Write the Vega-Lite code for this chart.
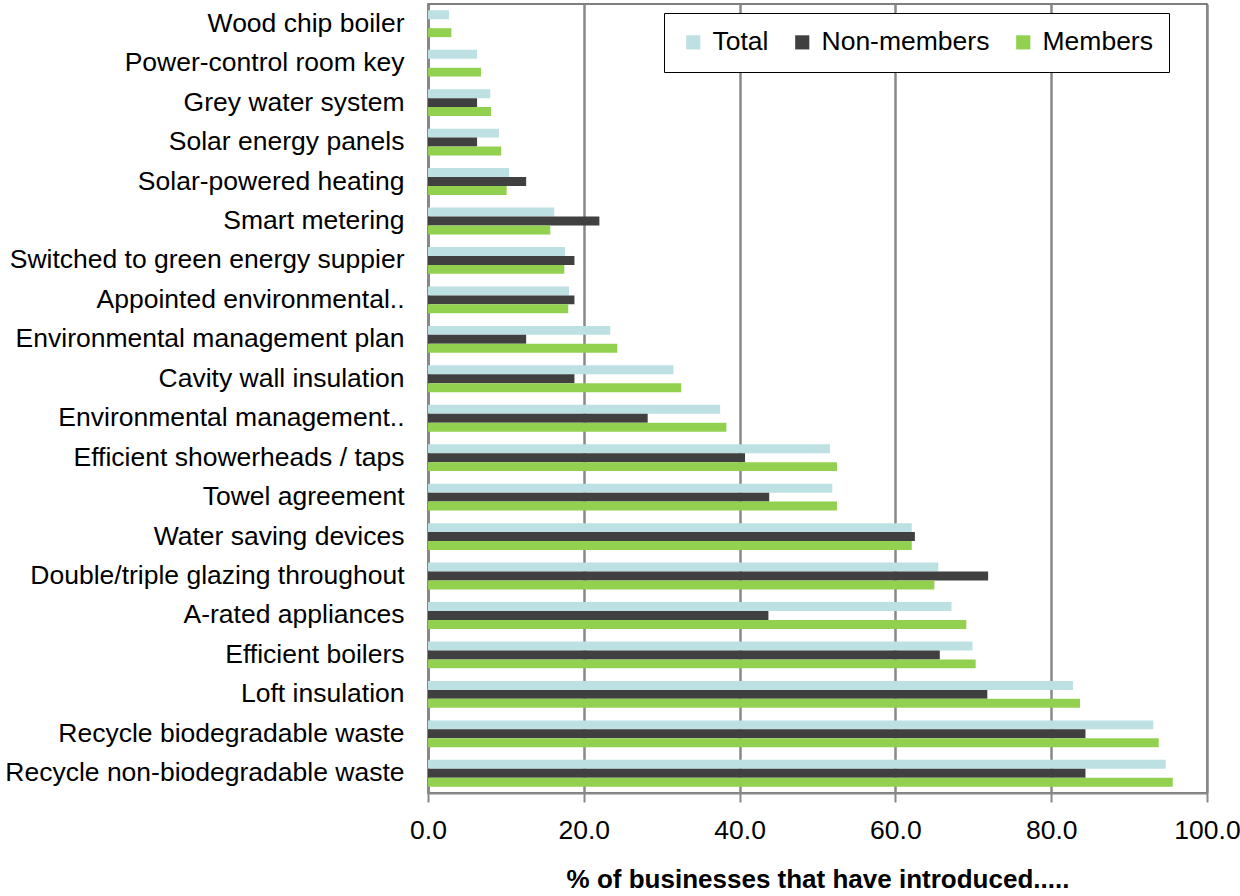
{
  "$schema": "https://vega.github.io/schema/vega-lite/v6.json",
  "width": 779,
  "height": 789,
  "autosize": "none",
  "padding": {"left": 428, "top": 4, "right": 33, "bottom": 103},
  "background": "white",
  "config": {
    "font": "Liberation Sans",
    "view": {"stroke": "#555555", "strokeWidth": 1.5}
  },
  "data": {
    "values": [
      {"item": "Wood chip boiler", "series": "Total", "value": 2.7},
      {"item": "Wood chip boiler", "series": "Non-members", "value": 0},
      {"item": "Wood chip boiler", "series": "Members", "value": 3.0},
      {"item": "Power-control room key", "series": "Total", "value": 6.3},
      {"item": "Power-control room key", "series": "Non-members", "value": 0},
      {"item": "Power-control room key", "series": "Members", "value": 6.8},
      {"item": "Grey water system", "series": "Total", "value": 8.0},
      {"item": "Grey water system", "series": "Non-members", "value": 6.3},
      {"item": "Grey water system", "series": "Members", "value": 8.1},
      {"item": "Solar energy panels", "series": "Total", "value": 9.1},
      {"item": "Solar energy panels", "series": "Non-members", "value": 6.3},
      {"item": "Solar energy panels", "series": "Members", "value": 9.4},
      {"item": "Solar-powered heating", "series": "Total", "value": 10.4},
      {"item": "Solar-powered heating", "series": "Non-members", "value": 12.6},
      {"item": "Solar-powered heating", "series": "Members", "value": 10.1},
      {"item": "Smart metering", "series": "Total", "value": 16.2},
      {"item": "Smart metering", "series": "Non-members", "value": 22.0},
      {"item": "Smart metering", "series": "Members", "value": 15.7},
      {"item": "Switched to green energy suppier", "series": "Total", "value": 17.6},
      {"item": "Switched to green energy suppier", "series": "Non-members", "value": 18.8},
      {"item": "Switched to green energy suppier", "series": "Members", "value": 17.5},
      {"item": "Appointed environmental..", "series": "Total", "value": 18.1},
      {"item": "Appointed environmental..", "series": "Non-members", "value": 18.8},
      {"item": "Appointed environmental..", "series": "Members", "value": 18.0},
      {"item": "Environmental management plan", "series": "Total", "value": 23.4},
      {"item": "Environmental management plan", "series": "Non-members", "value": 12.6},
      {"item": "Environmental management plan", "series": "Members", "value": 24.3},
      {"item": "Cavity wall insulation", "series": "Total", "value": 31.5},
      {"item": "Cavity wall insulation", "series": "Non-members", "value": 18.8},
      {"item": "Cavity wall insulation", "series": "Members", "value": 32.5},
      {"item": "Environmental management..", "series": "Total", "value": 37.5},
      {"item": "Environmental management..", "series": "Non-members", "value": 28.2},
      {"item": "Environmental management..", "series": "Members", "value": 38.3},
      {"item": "Efficient showerheads / taps", "series": "Total", "value": 51.6},
      {"item": "Efficient showerheads / taps", "series": "Non-members", "value": 40.7},
      {"item": "Efficient showerheads / taps", "series": "Members", "value": 52.5},
      {"item": "Towel agreement", "series": "Total", "value": 51.9},
      {"item": "Towel agreement", "series": "Non-members", "value": 43.8},
      {"item": "Towel agreement", "series": "Members", "value": 52.5},
      {"item": "Water saving devices", "series": "Total", "value": 62.1},
      {"item": "Water saving devices", "series": "Non-members", "value": 62.5},
      {"item": "Water saving devices", "series": "Members", "value": 62.1},
      {"item": "Double/triple glazing throughout", "series": "Total", "value": 65.5},
      {"item": "Double/triple glazing throughout", "series": "Non-members", "value": 71.9},
      {"item": "Double/triple glazing throughout", "series": "Members", "value": 65.0},
      {"item": "A-rated appliances", "series": "Total", "value": 67.2},
      {"item": "A-rated appliances", "series": "Non-members", "value": 43.7},
      {"item": "A-rated appliances", "series": "Members", "value": 69.1},
      {"item": "Efficient boilers", "series": "Total", "value": 69.9},
      {"item": "Efficient boilers", "series": "Non-members", "value": 65.7},
      {"item": "Efficient boilers", "series": "Members", "value": 70.3},
      {"item": "Loft insulation", "series": "Total", "value": 82.8},
      {"item": "Loft insulation", "series": "Non-members", "value": 71.8},
      {"item": "Loft insulation", "series": "Members", "value": 83.7},
      {"item": "Recycle biodegradable waste", "series": "Total", "value": 93.1},
      {"item": "Recycle biodegradable waste", "series": "Non-members", "value": 84.4},
      {"item": "Recycle biodegradable waste", "series": "Members", "value": 93.8},
      {"item": "Recycle non-biodegradable waste", "series": "Total", "value": 94.7},
      {"item": "Recycle non-biodegradable waste", "series": "Non-members", "value": 84.4},
      {"item": "Recycle non-biodegradable waste", "series": "Members", "value": 95.6}
    ]
  },
  "mark": {"type": "bar"},
  "encoding": {
    "y": {
      "field": "item",
      "type": "nominal",
      "sort": null,
      "scale": {"paddingInner": 0.32, "paddingOuter": 0.16},
      "axis": {
        "title": null,
        "labelFontSize": 26.5,
        "labelColor": "#000000",
        "labelPadding": 24,
        "labelLimit": 430,
        "ticks": false,
        "domainColor": "#888888",
        "domainWidth": 3
      }
    },
    "yOffset": {
      "field": "series",
      "type": "nominal",
      "sort": ["Total", "Non-members", "Members"],
      "scale": {"paddingInner": 0, "paddingOuter": 0}
    },
    "x": {
      "field": "value",
      "type": "quantitative",
      "scale": {"domain": [0, 100], "nice": false},
      "axis": {
        "values": [0, 20, 40, 60, 80, 100],
        "format": ".1f",
        "title": "% of businesses that have introduced.....",
        "titleFontSize": 26,
        "titleFontWeight": "bold",
        "titleColor": "#000000",
        "titlePadding": 23,
        "labelFontSize": 26.5,
        "labelColor": "#000000",
        "labelPadding": 15,
        "labelFlush": false,
        "labelOverlap": false,
        "tickSize": 9,
        "tickColor": "#888888",
        "tickWidth": 2,
        "domainColor": "#888888",
        "domainWidth": 2,
        "grid": true,
        "gridColor": "#888888",
        "gridWidth": 2.5
      }
    },
    "color": {
      "field": "series",
      "type": "nominal",
      "sort": ["Total", "Non-members", "Members"],
      "scale": {
        "domain": ["Total", "Non-members", "Members"],
        "range": ["#BDE0E3", "#404040", "#92D050"]
      },
      "legend": {
        "title": null,
        "orient": "none",
        "legendX": 236,
        "legendY": 9,
        "direction": "horizontal",
        "symbolType": "square",
        "symbolSize": 200,
        "symbolStrokeWidth": 0,
        "labelFontSize": 26.5,
        "labelColor": "#000000",
        "labelLimit": 300,
        "columnPadding": 20,
        "labelOffset": 6,
        "strokeColor": "#000000",
        "fillColor": "white",
        "padding": 16
      }
    }
  }
}
